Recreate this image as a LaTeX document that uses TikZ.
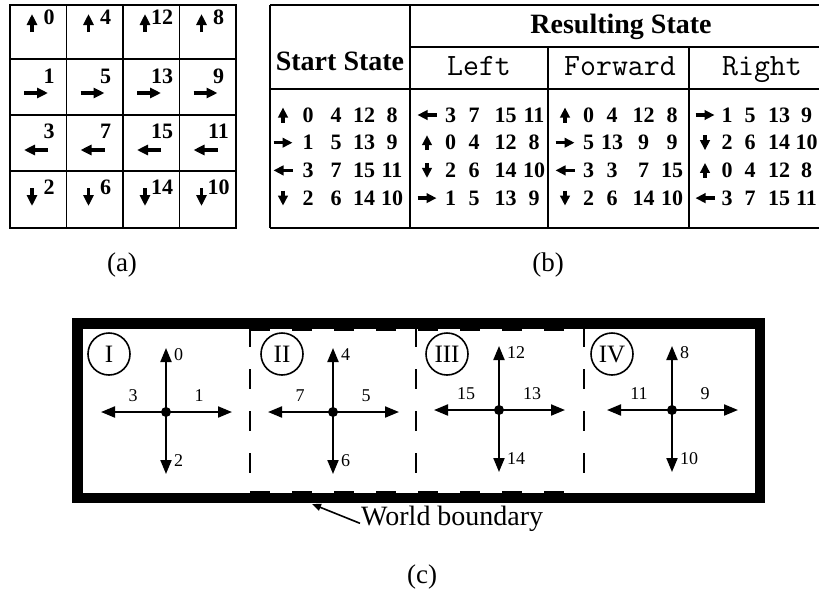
\documentclass[tikz,border=0pt]{standalone}
\usepackage{fontspec}
\setmainfont{Liberation Serif}
\usetikzlibrary{arrows.meta,calc}

\begin{document}
\begin{tikzpicture}[x=1pt,y=-1pt,
  gridline/.style={line width=1.8pt},
  tline/.style={line width=1.6pt},
  smallarr/.style={line width=3.3pt,-{Triangle[length=11pt,width=10pt]}},
  tabarr/.style={line width=3.3pt,-{Triangle[length=10pt,width=9.5pt]}},
  gridnum/.style={inner sep=0pt,font=\fontsize{22}{24}\selectfont\bfseries},
  tabnum/.style={inner sep=0pt,font=\fontsize{22}{24}\selectfont\bfseries},
  hdr/.style={inner sep=0pt,font=\fontsize{28}{30}\selectfont\bfseries},
  sub/.style={inner sep=0pt,font=\fontsize{31}{33}\selectfont\ttfamily},
  caption/.style={inner sep=0pt,font=\fontsize{27}{29}\selectfont},
  border/.style={line width=10.5pt},
  divider/.style={line width=2pt,dash pattern=on 20pt off 22pt},
  regcirc/.style={circle,draw,line width=1.6pt,minimum size=42pt,inner sep=0pt,
    font=\fontsize{25}{27}\selectfont},
  hub/.style={circle,fill,minimum size=10pt,inner sep=0pt},
  crossarr/.style={line width=2pt,-{Triangle[length=14pt,width=11pt]}},
  crosslbl/.style={inner sep=0pt,font=\fontsize{18}{20}\selectfont},
  pointer/.style={line width=1.6pt,-{Triangle[length=9pt,width=7pt]}},
]
\useasboundingbox (0,0) rectangle (819,590);
\fill[white] (0,0) rectangle (819,590);
\clip (0,0) rectangle (819,590);

% ---------- (a) the sixteen states on a 4x4 grid ----------
\draw[gridline] (10,5) rectangle (236,228);
\foreach \gx in {66.5,123,179.5} \draw[gridline] (\gx,5) -- (\gx,228);
\foreach \gy in {59,115,171} \draw[gridline] (10,\gy) -- (236,\gy);
\foreach \c/\na/\nb/\nc/\nd in {0/0/1/3/2, 1/4/5/7/6, 2/12/13/15/14, 3/8/9/11/10} {
  \pgfmathsetmacro\xl{10+56.5*\c}
  \draw[smallarr] (\xl+22,32) -- (\xl+22,14);
  \node[gridnum] (g\c-1) at (\xl+39,17) {\na};
  \draw[smallarr] (\xl+14,93) -- (\xl+38,93);
  \node[gridnum] (g\c-2) at (\xl+39,76) {\nb};
  \draw[smallarr] (\xl+38,150) -- (\xl+14,150);
  \node[gridnum] (g\c-3) at (\xl+39,131) {\nc};
  \draw[smallarr] (\xl+22,188) -- (\xl+22,206);
  \node[gridnum] (g\c-4) at (\xl+39,187) {\nd};
}
\node[caption] (capa) at (122,265) {(a)};

% ---------- (b) transition table ----------
\draw[tline] (270,5) -- (830,5);
\draw[tline] (270,5) -- (270,228);
\draw[tline] (410,47) -- (830,47);
\draw[tline] (270,89) -- (830,89);
\draw[tline] (270,228) -- (830,228);
\draw[tline,line width=2.4pt] (410,5) -- (410,228);
\draw[tline] (548,47) -- (548,228);
\draw[tline] (689,47) -- (689,228);

\node[hdr] (start) at (340,61) {Start State};
\node[hdr,anchor=base] (result) at (621,33) {Resulting State};
\node[sub,anchor=base] (left) at (479,75) {Left};
\node[sub,anchor=base] (fwd) at (620,75) {Forward};
\node[sub,anchor=base] (right) at (762,75) {Right};

% arrow x, then the centres of the four number columns
\foreach \p/\ax/\pa/\pb/\pc/\pd/\rows in {
  s/283/308/336/364/392/{0/-1/0/4/12/8, 1/0/1/5/13/9, -1/0/3/7/15/11, 0/1/2/6/14/10},
  l/427/450.5/474/505.5/534/{-1/0/3/7/15/11, 0/-1/0/4/12/8, 0/1/2/6/14/10, 1/0/1/5/13/9},
  f/565/588.5/612/643.5/672/{0/-1/0/4/12/8, 1/0/5/13/9/9, -1/0/3/3/7/15, 0/1/2/6/14/10},
  r/705/727/750/779/806.5/{1/0/1/5/13/9, 0/1/2/6/14/10, 0/-1/0/4/12/8, -1/0/3/7/15/11}} {
  \foreach \ux/\uy/\na/\nb/\nc/\nd [count=\r] in \rows {
    \pgfmathsetmacro\ry{115+27.7*(\r-1)}
    \pgfmathsetmacro\hx{9.5*\ux}
    \pgfmathsetmacro\hy{7.5*\uy}
    \draw[tabarr] (\ax-\hx,\ry-\hy) -- (\ax+\hx,\ry+\hy);
    \node[tabnum] (\p\r a) at (\pa,\ry) {\na};
    \node[tabnum] (\p\r b) at (\pb,\ry) {\nb};
    \node[tabnum] (\p\r c) at (\pc,\ry) {\nc};
    \node[tabnum] (\p\r d) at (\pd,\ry) {\nd};
  }
}
\node[caption] (capb) at (548,265) {(b)};

% ---------- (c) the world split into four regions ----------
\draw[divider] (250,327) -- (250,493);
\draw[divider] (416,327) -- (416,493);
\draw[divider] (584,327) -- (584,493);
\draw[divider] (250,329.5) -- (584,329.5);
\draw[divider] (250,492) -- (584,492);
\draw[border] (77.25,323.25) rectangle (759.75,497.75);

\foreach \k/\cx/\cy/\lu/\lr/\ld/\ll/\rx in {
  I/166/412/0/1/2/3/109, II/333/412/4/5/6/7/282,
  III/499/410/12/13/14/15/447, IV/672/410/8/9/10/11/612} {
  \node[regcirc] (r\k) at (\rx,354) {\k};
  \coordinate (h\k-u) at (\cx,\cy-64);
  \coordinate (h\k-d) at (\cx,\cy+62);
  \coordinate (h\k-l) at (\cx-65,\cy);
  \coordinate (h\k-r) at (\cx+66,\cy);
  \node[hub] (h\k) at (\cx,\cy) {};
  \draw[crossarr] (h\k.center) -- (h\k-u);
  \draw[crossarr] (h\k.center) -- (h\k-d);
  \draw[crossarr] (h\k.center) -- (h\k-l);
  \draw[crossarr] (h\k.center) -- (h\k-r);
  \node[crosslbl,anchor=west] (l\k-u) at (\cx+8,\cy-57) {\lu};
  \node[crosslbl] (l\k-r) at (\cx+33,\cy-16) {\lr};
  \node[crosslbl,anchor=west] (l\k-d) at (\cx+8,\cy+49) {\ld};
  \node[crosslbl] (l\k-l) at (\cx-33,\cy-16) {\ll};
}

\node[caption,anchor=base west,font=\fontsize{28}{30}\selectfont] (wb) at (361,525) {World boundary};
\coordinate (bnd) at (312,504);
\draw[pointer] ([xshift=-1pt,yshift=-5pt]wb.west) -- (bnd);
\node[caption] (capc) at (422,577) {(c)};
\end{tikzpicture}
\end{document}
